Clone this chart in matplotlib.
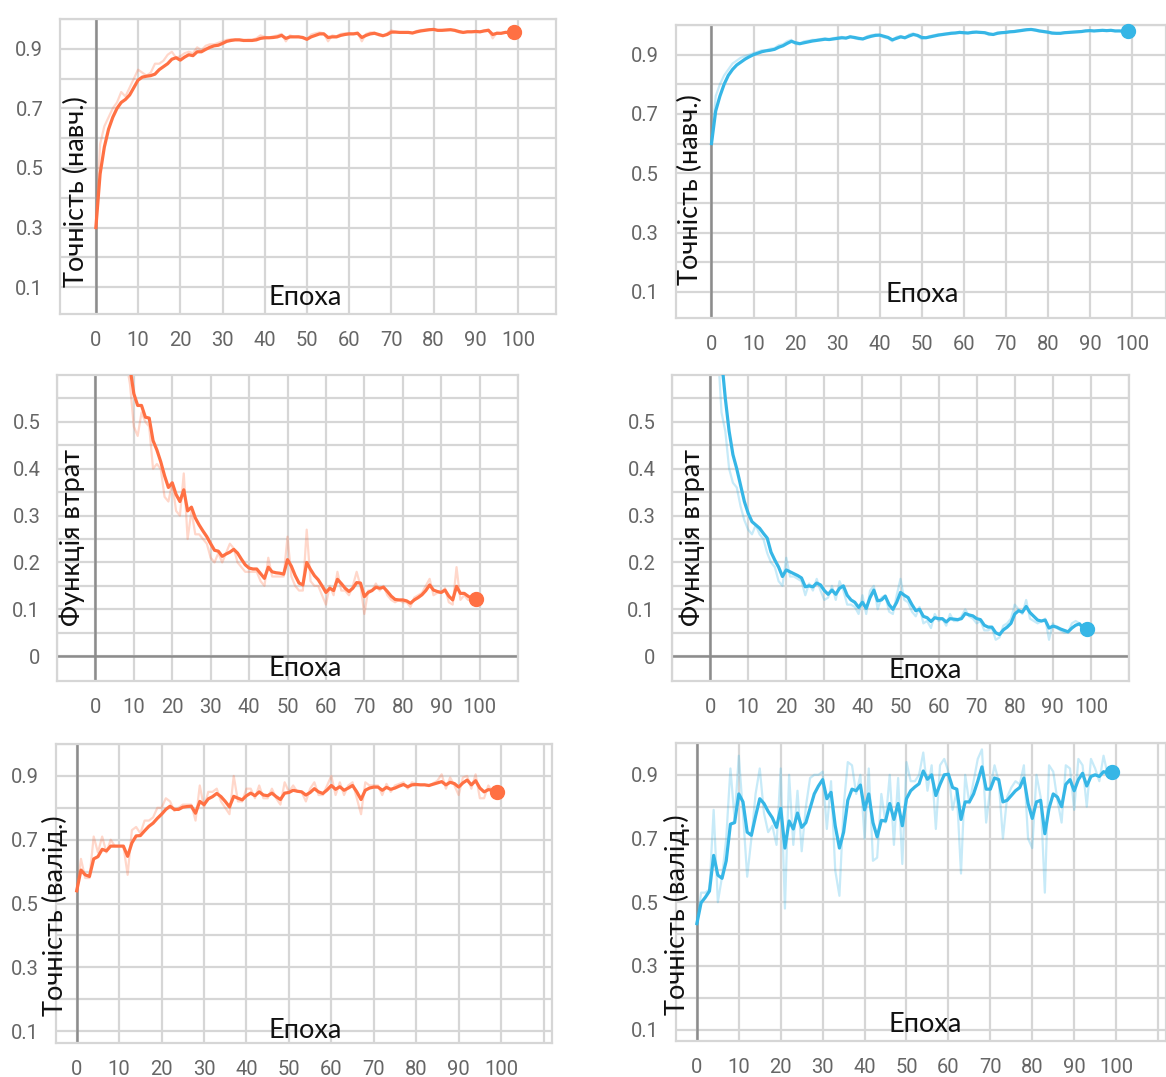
import matplotlib
matplotlib.use("Agg")
import matplotlib.pyplot as plt
import numpy as np

W, H = 1166, 1077
ORANGE = "#ff7043"
BLUE = "#36b6e6"

epochs = list(range(100))

# training accuracy, orange run
train_acc_a = [0.30, 0.48, 0.57, 0.63, 0.67, 0.70, 0.72, 0.73, 0.745, 0.77,
               0.795, 0.805, 0.808, 0.81, 0.815, 0.83, 0.84, 0.85, 0.865, 0.87,
               0.862, 0.872, 0.88, 0.877, 0.89, 0.89, 0.898, 0.905, 0.91, 0.912,
               0.918, 0.925, 0.928, 0.93, 0.93, 0.928, 0.928, 0.928, 0.93, 0.935,
               0.937, 0.937, 0.938, 0.94, 0.945, 0.935, 0.94, 0.94, 0.94, 0.938,
               0.932, 0.94, 0.945, 0.95, 0.95, 0.938, 0.94, 0.94, 0.945, 0.948,
               0.95, 0.95, 0.952, 0.938, 0.945, 0.95, 0.952, 0.948, 0.944, 0.948,
               0.956, 0.956, 0.955, 0.955, 0.955, 0.953, 0.957, 0.96, 0.962, 0.964,
               0.965, 0.962, 0.962, 0.963, 0.964, 0.962, 0.958, 0.955, 0.957, 0.957,
               0.958, 0.957, 0.96, 0.962, 0.948, 0.952, 0.952, 0.955, 0.955, 0.958]
train_acc_a_raw = [0.30, 0.58, 0.64, 0.67, 0.70, 0.72, 0.755, 0.74, 0.77, 0.80,
                   0.83, 0.82, 0.81, 0.82, 0.85, 0.85, 0.86, 0.88, 0.89, 0.87,
                   0.875, 0.885, 0.89, 0.885, 0.905, 0.895, 0.91, 0.915, 0.915, 0.92,
                   0.925, 0.93, 0.932, 0.93, 0.93, 0.926, 0.93, 0.93, 0.935, 0.945,
                   0.94, 0.938, 0.942, 0.945, 0.95, 0.925, 0.945, 0.94, 0.942, 0.935,
                   0.93, 0.948, 0.952, 0.955, 0.952, 0.925, 0.945, 0.942, 0.95, 0.952,
                   0.953, 0.952, 0.955, 0.925, 0.95, 0.955, 0.955, 0.945, 0.942, 0.952,
                   0.962, 0.957, 0.955, 0.956, 0.955, 0.952, 0.96, 0.963, 0.964, 0.966,
                   0.966, 0.96, 0.963, 0.964, 0.966, 0.96, 0.955, 0.953, 0.958, 0.957,
                   0.96, 0.956, 0.962, 0.965, 0.935, 0.955, 0.952, 0.957, 0.955, 0.96]

# training accuracy, blue run
train_acc_b = [0.60, 0.71, 0.76, 0.80, 0.83, 0.85, 0.865, 0.875, 0.885, 0.893,
               0.90, 0.905, 0.91, 0.913, 0.915, 0.918, 0.925, 0.93, 0.938, 0.945,
               0.94, 0.937, 0.94, 0.943, 0.946, 0.948, 0.95, 0.952, 0.951, 0.953,
               0.955, 0.957, 0.956, 0.96, 0.958, 0.955, 0.953, 0.958, 0.962, 0.965,
               0.966, 0.962, 0.958, 0.95, 0.955, 0.96, 0.957, 0.963, 0.968, 0.965,
               0.958, 0.957, 0.96, 0.963, 0.966, 0.968, 0.97, 0.972, 0.973, 0.975,
               0.974, 0.973, 0.975, 0.976, 0.975, 0.974, 0.97, 0.968, 0.972, 0.974,
               0.975, 0.977, 0.978, 0.98, 0.982, 0.984, 0.985, 0.983, 0.98, 0.978,
               0.976, 0.973, 0.972, 0.972, 0.974, 0.975, 0.976, 0.977, 0.978, 0.98,
               0.981, 0.98, 0.981, 0.982, 0.981, 0.982, 0.98, 0.98, 0.979, 0.979]
train_acc_b_raw = [0.60, 0.76, 0.80, 0.83, 0.85, 0.87, 0.88, 0.89, 0.895, 0.90,
                   0.905, 0.91, 0.915, 0.915, 0.92, 0.922, 0.932, 0.935, 0.945, 0.95,
                   0.935, 0.935, 0.945, 0.947, 0.95, 0.95, 0.953, 0.955, 0.95, 0.956,
                   0.958, 0.96, 0.954, 0.963, 0.955, 0.952, 0.952, 0.962, 0.966, 0.968,
                   0.966, 0.958, 0.955, 0.945, 0.96, 0.963, 0.955, 0.968, 0.972, 0.962,
                   0.953, 0.957, 0.963, 0.966, 0.969, 0.97, 0.972, 0.974, 0.974, 0.977,
                   0.973, 0.972, 0.977, 0.977, 0.974, 0.973, 0.966, 0.967, 0.975, 0.976,
                   0.976, 0.979, 0.979, 0.982, 0.984, 0.986, 0.986, 0.981, 0.978, 0.976,
                   0.974, 0.97, 0.971, 0.972, 0.976, 0.976, 0.977, 0.978, 0.979, 0.982,
                   0.982, 0.979, 0.982, 0.983, 0.98, 0.983, 0.979, 0.98, 0.978, 0.979]

# loss, orange run
loss_a = [1.60, 1.35, 1.18, 1.04, 0.93, 0.84, 0.77, 0.71, 0.66, 0.615,
          0.56, 0.535, 0.535, 0.51, 0.508, 0.46, 0.44, 0.415, 0.385, 0.36,
          0.37, 0.345, 0.33, 0.355, 0.31, 0.318, 0.295, 0.28, 0.267, 0.255,
          0.24, 0.226, 0.224, 0.213, 0.218, 0.222, 0.228, 0.22, 0.207, 0.195,
          0.188, 0.186, 0.186, 0.176, 0.166, 0.19, 0.18, 0.178, 0.177, 0.175,
          0.206, 0.192, 0.172, 0.156, 0.152, 0.20, 0.185, 0.172, 0.163, 0.15,
          0.136, 0.145, 0.14, 0.164, 0.155, 0.145, 0.138, 0.145, 0.157, 0.156,
          0.127, 0.136, 0.14, 0.147, 0.145, 0.147, 0.138, 0.128, 0.121, 0.12,
          0.12, 0.118, 0.113, 0.12, 0.125, 0.131, 0.14, 0.152, 0.141, 0.138,
          0.136, 0.141, 0.128, 0.12, 0.149, 0.134, 0.134, 0.128, 0.123, 0.122]
loss_a_raw = [1.45, 1.25, 1.10, 0.98, 0.88, 0.80, 0.73, 0.68, 0.63, 0.58,
              0.49, 0.47, 0.52, 0.50, 0.49, 0.40, 0.41, 0.40, 0.34, 0.33,
              0.37, 0.31, 0.30, 0.39, 0.25, 0.31, 0.26, 0.26, 0.25, 0.24,
              0.21, 0.20, 0.22, 0.20, 0.22, 0.24, 0.23, 0.20, 0.19, 0.18,
              0.18, 0.18, 0.18, 0.16, 0.15, 0.21, 0.17, 0.17, 0.17, 0.17,
              0.255, 0.17, 0.15, 0.14, 0.14, 0.27, 0.16, 0.15, 0.15, 0.13,
              0.11, 0.15, 0.13, 0.18, 0.14, 0.14, 0.13, 0.15, 0.18, 0.15,
              0.09, 0.14, 0.14, 0.155, 0.14, 0.15, 0.13, 0.12, 0.115, 0.12,
              0.115, 0.115, 0.105, 0.125, 0.13, 0.135, 0.15, 0.165, 0.13, 0.135,
              0.135, 0.145, 0.115, 0.11, 0.19, 0.12, 0.13, 0.12, 0.12, 0.122]

# loss, blue run
loss_b = [1.05, 0.86, 0.73, 0.635, 0.55, 0.48, 0.43, 0.40, 0.365, 0.33,
          0.305, 0.287, 0.28, 0.273, 0.262, 0.252, 0.222, 0.205, 0.19, 0.17,
          0.184, 0.18, 0.176, 0.172, 0.167, 0.148, 0.15, 0.148, 0.156, 0.152,
          0.14, 0.132, 0.141, 0.132, 0.145, 0.15, 0.13, 0.12, 0.115, 0.104,
          0.115, 0.102, 0.125, 0.141, 0.118, 0.12, 0.128, 0.11, 0.10, 0.115,
          0.136, 0.13, 0.125, 0.11, 0.097, 0.10, 0.085, 0.082, 0.074, 0.082,
          0.08, 0.08, 0.073, 0.08, 0.079, 0.078, 0.08, 0.091, 0.088, 0.086,
          0.08, 0.078, 0.066, 0.062, 0.062, 0.05, 0.046, 0.056, 0.062, 0.07,
          0.09, 0.097, 0.094, 0.106, 0.093, 0.085, 0.077, 0.075, 0.077, 0.06,
          0.064, 0.062, 0.058, 0.055, 0.052, 0.06, 0.066, 0.069, 0.06, 0.057]
loss_b_raw = [0.95, 0.78, 0.66, 0.52, 0.48, 0.40, 0.37, 0.36, 0.32, 0.29,
              0.27, 0.26, 0.28, 0.26, 0.25, 0.22, 0.20, 0.19, 0.16, 0.15,
              0.21, 0.17, 0.17, 0.165, 0.16, 0.13, 0.155, 0.14, 0.165, 0.14,
              0.12, 0.125, 0.15, 0.12, 0.16, 0.14, 0.11, 0.11, 0.105, 0.09,
              0.13, 0.09, 0.14, 0.15, 0.10, 0.125, 0.13, 0.095, 0.09, 0.13,
              0.165, 0.12, 0.115, 0.095, 0.085, 0.105, 0.07, 0.075, 0.06, 0.09,
              0.075, 0.08, 0.065, 0.09, 0.075, 0.075, 0.085, 0.10, 0.085, 0.08,
              0.07, 0.075, 0.055, 0.055, 0.06, 0.035, 0.04, 0.065, 0.07, 0.08,
              0.11, 0.10, 0.09, 0.12, 0.08, 0.075, 0.07, 0.075, 0.08, 0.035,
              0.07, 0.06, 0.055, 0.05, 0.05, 0.07, 0.075, 0.07, 0.05, 0.055]

# validation accuracy, orange run
val_acc_a = [0.54, 0.605, 0.59, 0.585, 0.64, 0.647, 0.67, 0.665, 0.68, 0.68,
             0.68, 0.68, 0.648, 0.69, 0.712, 0.713, 0.728, 0.742, 0.752, 0.767,
             0.78, 0.795, 0.805, 0.795, 0.795, 0.802, 0.804, 0.805, 0.783, 0.82,
             0.81, 0.828, 0.835, 0.845, 0.835, 0.82, 0.803, 0.836, 0.83, 0.825,
             0.838, 0.846, 0.838, 0.85, 0.84, 0.838, 0.846, 0.835, 0.826, 0.846,
             0.848, 0.855, 0.852, 0.85, 0.84, 0.848, 0.86, 0.85, 0.845, 0.856,
             0.87, 0.858, 0.866, 0.855, 0.862, 0.87, 0.85, 0.826, 0.855, 0.862,
             0.865, 0.865, 0.855, 0.864, 0.858, 0.862, 0.868, 0.873, 0.866, 0.872,
             0.873, 0.872, 0.872, 0.87, 0.874, 0.878, 0.882, 0.872, 0.88, 0.876,
             0.865, 0.878, 0.887, 0.872, 0.885, 0.862, 0.85, 0.857, 0.855, 0.85]
val_acc_a_raw = [0.54, 0.64, 0.58, 0.58, 0.71, 0.66, 0.71, 0.66, 0.70, 0.68,
                 0.68, 0.68, 0.59, 0.73, 0.74, 0.72, 0.76, 0.76, 0.77, 0.80,
                 0.80, 0.83, 0.82, 0.79, 0.80, 0.81, 0.81, 0.81, 0.76, 0.87,
                 0.80, 0.85, 0.85, 0.86, 0.82, 0.80, 0.78, 0.90, 0.82, 0.82,
                 0.86, 0.86, 0.83, 0.87, 0.83, 0.83, 0.86, 0.83, 0.81, 0.88,
                 0.85, 0.87, 0.85, 0.85, 0.82, 0.86, 0.88, 0.84, 0.84, 0.87,
                 0.90, 0.84, 0.88, 0.84, 0.87, 0.88, 0.83, 0.78, 0.88, 0.87,
                 0.87, 0.87, 0.84, 0.875, 0.85, 0.87, 0.875, 0.88, 0.86, 0.88,
                 0.875, 0.872, 0.872, 0.868, 0.877, 0.885, 0.905, 0.86, 0.895, 0.87,
                 0.84, 0.895, 0.90, 0.86, 0.905, 0.83, 0.83, 0.87, 0.85, 0.85]

# validation accuracy, blue run
val_acc_b = [0.433, 0.498, 0.515, 0.535, 0.647, 0.585, 0.575, 0.63, 0.745, 0.75,
             0.84, 0.815, 0.72, 0.71, 0.77, 0.825, 0.81, 0.785, 0.765, 0.735,
             0.795, 0.67, 0.755, 0.73, 0.78, 0.735, 0.75, 0.795, 0.84, 0.865,
             0.885, 0.825, 0.845, 0.74, 0.67, 0.72, 0.82, 0.855, 0.85, 0.868,
             0.79, 0.84, 0.75, 0.705, 0.757, 0.755, 0.81, 0.76, 0.81, 0.74,
             0.825, 0.85, 0.862, 0.872, 0.912, 0.886, 0.90, 0.835, 0.87, 0.90,
             0.902, 0.86, 0.855, 0.76, 0.815, 0.815, 0.84, 0.88, 0.925, 0.855,
             0.855, 0.89, 0.885, 0.815, 0.82, 0.835, 0.85, 0.86, 0.89, 0.81,
             0.763, 0.815, 0.82, 0.715, 0.795, 0.84, 0.83, 0.80, 0.87, 0.885,
             0.85, 0.885, 0.905, 0.865, 0.895, 0.90, 0.895, 0.91, 0.905, 0.908]
val_acc_b_raw = [0.43, 0.53, 0.53, 0.54, 0.79, 0.50, 0.58, 0.70, 0.92, 0.76,
                 0.96, 0.78, 0.58, 0.70, 0.84, 0.92, 0.78, 0.72, 0.74, 0.68,
                 0.92, 0.48, 0.90, 0.68, 0.85, 0.66, 0.80, 0.89, 0.90, 0.90,
                 0.91, 0.73, 0.88, 0.60, 0.52, 0.80, 0.94, 0.93, 0.84, 0.90,
                 0.70, 0.92, 0.63, 0.64, 0.84, 0.75, 0.90, 0.68, 0.89, 0.62,
                 0.94, 0.88, 0.88, 0.90, 0.97, 0.85, 0.93, 0.73, 0.93, 0.95,
                 0.91, 0.79, 0.85, 0.59, 0.90, 0.81, 0.88, 0.95, 0.98, 0.75,
                 0.86, 0.93, 0.88, 0.70, 0.83, 0.86, 0.88, 0.87, 0.93, 0.70,
                 0.67, 0.90, 0.83, 0.53, 0.93, 0.91, 0.82, 0.75, 0.93, 0.92,
                 0.79, 0.95, 0.93, 0.80, 0.95, 0.92, 0.88, 0.96, 0.90, 0.91]

acc_major = [0.1, 0.3, 0.5, 0.7, 0.9]
acc_minor = [0.2, 0.4, 0.6, 0.8, 1.0]
loss_major = [0, 0.1, 0.2, 0.3, 0.4, 0.5]
loss_minor = [0.05, 0.15, 0.25, 0.35, 0.45, 0.55]
x_grid = list(range(-10, 120, 10))

fig = plt.figure(figsize=(W / 100, H / 100), dpi=100)


def add_panel(box, xlim, ylim, yticks, yminor, smooth, raw, color,
              ylabel, ylabel_pos, xlabel_pos, hline=False):
    """Build one TensorBoard-like panel from a pixel box (l, t, r, b)."""
    l, t, r, b = box
    ax = fig.add_axes([l / W, 1 - b / H, (r - l) / W, (b - t) / H])
    ax.set_xticks(x_grid)
    ax.set_xticklabels([str(v) if 0 <= v <= 100 else "" for v in x_grid])
    ax.set_yticks(yticks)
    ax.set_yticklabels(["0" if v == 0 else f"{v:g}" for v in yticks])
    ax.set_yticks(yminor, minor=True)
    # limits after ticks, otherwise set_xticks widens the view
    ax.set_xlim(*xlim)
    ax.set_ylim(*ylim)
    ax.grid(True, which="both", color="#d6d6d6", lw=1.6)
    ax.set_axisbelow(True)
    for s in ax.spines.values():
        s.set_color("#d6d6d6")
        s.set_linewidth(1.6)
    ax.tick_params(which="both", length=0)
    ax.tick_params(axis="x", pad=12)
    ax.tick_params(axis="y", pad=12)
    for lab in ax.get_xticklabels() + ax.get_yticklabels():
        lab.set_fontfamily("Roboto")
        lab.set_fontsize(14.5)
        lab.set_color("#666666")
    ax.axvline(0, color="#8c8c8c", lw=1.8, zorder=1)
    if hline:
        ax.axhline(0, color="#8c8c8c", lw=1.8, zorder=1)
    ax.plot(epochs, raw, color=color, lw=1.6, alpha=0.28, zorder=2)
    ax.plot(epochs, smooth, color=color, lw=2.3, zorder=3)
    ax.plot(epochs[-1], smooth[-1], "o", color=color, ms=10, zorder=4,
            clip_on=False)
    fig.text(ylabel_pos[0] / W, 1 - ylabel_pos[1] / H, ylabel, rotation=90,
             ha="center", va="center", fontsize=19.5, family="Lato",
             color="#111111")
    fig.text(xlabel_pos[0] / W, 1 - xlabel_pos[1] / H, "Епоха",
             ha="center", va="center", fontsize=19.5, family="Lato",
             color="#111111")
    return ax


add_panel((60, 19, 556, 314), (-8.5, 109), (0.01, 1.0), acc_major, acc_minor,
          train_acc_a, train_acc_a_raw, ORANGE, "Точність (навч.)",
          (76, 192), (305, 297))
add_panel((675.5, 25, 1166, 318), (-8.56, 108.1), (0.012, 1.0), acc_major,
          acc_minor, train_acc_b, train_acc_b_raw, BLUE, "Точність (навч.)",
          (690, 190), (922, 294))
add_panel((57, 375, 518, 681), (-10, 110), (-0.053, 0.6), loss_major,
          loss_minor, loss_a, loss_a_raw, ORANGE, "Функція втрат",
          (72, 538), (305, 668), hline=True)
add_panel((672, 375, 1129, 681), (-10, 110), (-0.053, 0.6), loss_major,
          loss_minor, loss_b, loss_b_raw, BLUE, "Функція втрат",
          (692, 538), (925, 671), hline=True)
add_panel((55.5, 744, 552, 1043), (-5, 112), (0.063, 1.0), acc_major,
          acc_minor, val_acc_a, val_acc_a_raw, ORANGE, "Точність (валід.)",
          (55, 916), (305, 1030))
add_panel((675.5, 743, 1166, 1041), (-5.1, 111.9), (0.064, 1.0), acc_major,
          acc_minor, val_acc_b, val_acc_b_raw, BLUE, "Точність (валід.)",
          (677, 915), (925, 1024))

fig.savefig("out.png", dpi=100)
